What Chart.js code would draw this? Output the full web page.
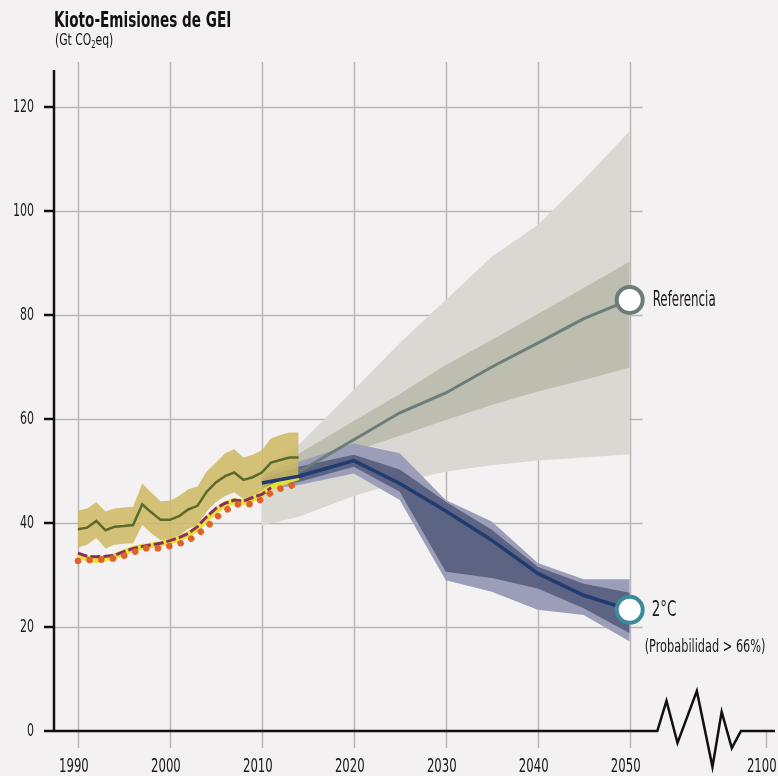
<!DOCTYPE html>
<html>
<head>
<meta charset="utf-8">
<script src="https://cdn.jsdelivr.net/npm/chart.js@4.4.0/dist/chart.umd.min.js"></script>
<style>
  html, body { margin: 0; padding: 0; background: #f3f1f2; }
  #wrap { position: relative; width: 778px; height: 776px; }
  #title { position: absolute; left: 54px; top: 10px; font: bold 21px "Liberation Sans Narrow", "DejaVu Sans Condensed", sans-serif; line-height: 1; color: #111; white-space: nowrap; transform: scaleX(0.72); transform-origin: 0 0; }
  #unit { position: absolute; left: 55px; top: 32px; font: 16px "Liberation Sans Narrow", "DejaVu Sans Condensed", sans-serif; line-height: 1; color: #111; white-space: nowrap; transform: scaleX(0.75); transform-origin: 0 0; }
  #unit sub { font-size: 10px; vertical-align: -3px; }
  canvas { position: absolute; left: 0; top: 0; }
</style>
</head>
<body>
<div id="wrap">
  <canvas id="chart" width="778" height="776"></canvas>
  <div id="title">Kioto-Emisiones de GEI</div>
  <div id="unit">(Gt CO<sub>2</sub>eq)</div>
</div>
<script>
// Historical data 1990-2014
const histYears = [1990, 1991, 1992, 1993, 1994, 1995, 1996, 1997, 1998, 1999, 2000, 2001, 2002,
                   2003, 2004, 2005, 2006, 2007, 2008, 2009, 2010, 2011, 2012, 2013, 2014];
const histCentral = [38.8, 39.1, 40.4, 38.6, 39.3, 39.4, 39.6, 43.6, 42.0, 40.6, 40.6, 41.3, 42.6,
                     43.3, 46.0, 47.8, 49.0, 49.7, 48.3, 48.8, 49.7, 51.6, 52.1, 52.6, 52.6];
const histUpper = [42.4, 42.8, 44.0, 42.2, 42.8, 43.0, 43.1, 47.6, 45.8, 44.2, 44.3, 45.2, 46.5,
                   47.0, 49.9, 51.6, 53.4, 54.2, 52.6, 53.1, 54.0, 56.3, 56.9, 57.4, 57.4];
const histLower = [35.3, 35.8, 37.1, 35.1, 35.8, 36.0, 36.1, 39.6, 38.0, 36.7, 36.9, 37.6, 38.9,
                   39.5, 42.2, 44.0, 45.2, 45.9, 44.6, 45.0, 45.9, 47.7, 48.2, 48.7, 48.7];
const histYellow = [33.8, 33.2, 32.9, 33.2, 33.6, 34.3, 35.0, 35.4, 35.7, 36.0, 36.4, 37.0, 37.8,
                    39.0, 40.8, 42.4, 43.6, 44.2, 44.0, 44.6, 45.6, 46.8, 47.6, 48.3, 48.8];
const histPurple = [34.2, 33.6, 33.5, 33.6, 33.8, 34.5, 35.1, 35.5, 35.8, 36.1, 36.6, 37.2, 38.0,
                    39.3, 41.2, 42.8, 43.8, 44.4, 44.2, 44.9, 45.5, 46.8];
const histDots = [32.7, 32.9, 32.9, 33.0, 33.2, 33.7, 34.3, 35.1, 35.2, 35.1, 35.6, 36.0, 36.6,
                  37.8, 39.2, 41.0, 42.3, 43.5, 43.7, 43.6, 44.6, 45.8, 46.6, 47.1, 47.4];

// Scenario data
const projYears = [2010, 2014, 2020, 2025, 2030, 2035, 2040, 2045, 2050];
const refOuterUpper = [50.0, 55.0, 65.6, 74.6, 82.9, 91.2, 97.3, 106.0, 115.4];
const refOuterLower = [39.5, 41.2, 45.2, 47.8, 49.9, 51.1, 52.0, 52.6, 53.2];
const refInnerUpper = [49.0, 53.3, 59.6, 64.8, 70.4, 75.2, 80.2, 85.2, 90.3];
const refInnerLower = [47.0, 50.0, 53.8, 56.8, 59.8, 62.7, 65.3, 67.5, 69.9];
const refLineYears = [2014, 2020, 2025, 2030, 2035, 2040, 2045, 2050];
const refLine = [49.8, 56.0, 61.2, 65.0, 70.0, 74.6, 79.3, 82.9];
const c2OuterUpper = [49.2, 51.8, 55.3, 53.4, 44.4, 40.3, 32.3, 29.2, 29.2];
const c2OuterLower = [46.3, 47.3, 49.5, 44.4, 29.0, 26.8, 23.3, 22.3, 17.2];
const c2InnerUpper = [48.6, 50.8, 53.1, 50.3, 44.1, 38.7, 31.6, 28.3, 26.6];
const c2InnerLower = [46.9, 47.9, 50.8, 46.0, 30.6, 29.4, 27.4, 23.6, 18.8];
const c2Line = [47.7, 49.0, 52.0, 47.6, 42.3, 36.7, 30.3, 26.1, 23.3];

// Axis ticks (2100 sits after the axis break)
const xTicks = [1990, 2000, 2010, 2020, 2030, 2040, 2050];
const xBreakTick = { label: '2100', at: 2064.8 };
const yTicks = [0, 20, 40, 60, 80, 100, 120];
const zigzagX = [2052.9, 2053.0, 2054.0, 2055.2, 2057.3, 2059.0, 2060.0, 2061.1, 2062.1, 2065.8];
const zigzagY = [0, 0, 5.8, -2.3, 7.7, -6.9, 3.7, -3.3, 0, 0];

const FONT = '"Liberation Sans Narrow", "DejaVu Sans Condensed", sans-serif';

function pts(years, vals) {
    return vals.map((v, i) => ({ x: years[i], y: v }));
}

const datasets = [];

function addBand(years, lower, upper, color, order) {
    datasets.push({ data: pts(years, lower), borderWidth: 0, pointRadius: 0, fill: false, order: order });
    datasets.push({ data: pts(years, upper), borderWidth: 0, pointRadius: 0, fill: '-1', backgroundColor: color, order: order });
}

function endCircle(n) {
    return ctx => (ctx.dataIndex === n - 1 ? 13 : 0);
}

// bands (drawn first)
addBand(projYears, refOuterLower, refOuterUpper, '#d9d8d2', 9);
addBand(projYears, refInnerLower, refInnerUpper, '#bdbdb0', 8);
addBand(projYears, c2OuterLower, c2OuterUpper, '#9c9db8', 7);
addBand(projYears, c2InnerLower, c2InnerUpper, '#5d6382', 6);
addBand(histYears, histLower, histUpper, 'rgba(205, 184, 98, 0.85)', 5);

// historical lines
datasets.push({ data: pts(histYears, histCentral), borderColor: '#5b6a2c', borderWidth: 2.5, pointRadius: 0, order: 4 });
datasets.push({ data: pts(histYears, histYellow), borderColor: '#e4e13a', borderWidth: 6, pointRadius: 0, order: 3.5 });
datasets.push({ data: pts(histYears, histPurple), borderColor: '#8a2f5e', borderWidth: 3, borderDash: [10, 3], pointRadius: 0, order: 3 });
datasets.push({ data: pts(histYears, histDots), borderColor: '#e0612a', borderWidth: 6.5, borderDash: [0.1, 11.6],
                borderCapStyle: 'round', pointRadius: 0, order: 2.5 });

// scenario lines with end circles
datasets.push({ data: pts(refLineYears, refLine), borderColor: '#6b7d76', borderWidth: 3, order: 1,
                pointRadius: endCircle(refLine.length), pointBackgroundColor: '#ffffff',
                pointBorderColor: '#6b7d76', pointBorderWidth: 4 });
datasets.push({ data: pts(projYears, c2Line), borderColor: '#1f3b70', borderWidth: 3.5, order: 0,
                pointRadius: endCircle(c2Line.length), pointBackgroundColor: '#ffffff',
                pointBorderColor: '#3d8a9e', pointBorderWidth: 4 });

function condText(ctx, text, x, y, size, align, sx) {
    ctx.save();
    ctx.font = size + 'px ' + FONT;
    ctx.translate(x, y);
    ctx.scale(sx, 1);
    ctx.textAlign = align;
    ctx.textBaseline = 'middle';
    ctx.fillStyle = '#1a1a1a';
    ctx.fillText(text, 0, 0);
    ctx.restore();
}

const decor = {
    id: 'decor',
    beforeDatasetsDraw(chart) {
        const { ctx, scales: { x, y } } = chart;
        ctx.save();
        ctx.strokeStyle = '#b6b6b6';
        ctx.lineWidth = 1.5;
        // horizontal grid
        yTicks.slice(1).forEach(v => {
            const py = Math.round(y.getPixelForValue(v)) + 0.5;
            ctx.beginPath();
            ctx.moveTo(x.getPixelForValue(1987.4), py);
            ctx.lineTo(x.getPixelForValue(2051.4), py);
            ctx.stroke();
        });
        // vertical grid
        xTicks.forEach(v => {
            const px = Math.round(x.getPixelForValue(v)) + 0.5;
            ctx.beginPath();
            ctx.moveTo(px, y.top);
            ctx.lineTo(px, y.bottom);
            ctx.stroke();
        });
        const bx = Math.round(x.getPixelForValue(xBreakTick.at)) + 0.5;
        ctx.beginPath();
        ctx.moveTo(bx, y.getPixelForValue(0));
        ctx.lineTo(bx, y.bottom);
        ctx.stroke();
        ctx.restore();
    },
    afterDatasetsDraw(chart) {
        const { ctx, scales: { x, y } } = chart;
        const x0 = x.getPixelForValue(1987.4);
        const y0 = y.getPixelForValue(0);
        ctx.save();
        ctx.strokeStyle = '#111';
        ctx.lineWidth = 2.5;
        ctx.lineJoin = 'miter';
        // y axis
        ctx.beginPath();
        ctx.moveTo(x0, y.getPixelForValue(127.1));
        ctx.lineTo(x0, y0);
        ctx.stroke();
        // y ticks
        yTicks.forEach(v => {
            const py = y.getPixelForValue(v);
            ctx.beginPath();
            ctx.moveTo(x0 - 10, py);
            ctx.lineTo(x0, py);
            ctx.stroke();
        });
        // x axis with break
        ctx.beginPath();
        ctx.moveTo(x0, y0);
        zigzagX.forEach((v, i) => ctx.lineTo(x.getPixelForValue(v), y.getPixelForValue(zigzagY[i])));
        ctx.stroke();
        ctx.restore();

        // tick labels
        yTicks.forEach(v => condText(ctx, String(v), 34, y.getPixelForValue(v), 18, 'right', 0.68));
        xTicks.forEach(v => condText(ctx, String(v), x.getPixelForValue(v) - 4, 767, 20, 'center', 0.65));
        condText(ctx, xBreakTick.label, x.getPixelForValue(xBreakTick.at) - 4, 767, 20, 'center', 0.65);

        // series labels
        const ex = x.getPixelForValue(2050);
        const refY = y.getPixelForValue(refLine[refLine.length - 1]);
        const c2Y = y.getPixelForValue(c2Line[c2Line.length - 1]);
        condText(ctx, 'Referencia', ex + 23, refY, 22, 'left', 0.6);
        condText(ctx, '2°C', ex + 22, c2Y, 22, 'left', 0.68);
        condText(ctx, '(Probabilidad > 66%)', ex + 15, c2Y + 37, 18, 'left', 0.7);
    }
};

new Chart(document.getElementById('chart'), {
    type: 'line',
    data: { datasets: datasets },
    options: {
        responsive: false,
        animation: false,
        layout: { autoPadding: false, padding: { left: 54, right: 3, top: 62, bottom: 28 } },
        elements: { line: { tension: 0 } },
        plugins: { legend: { display: false }, tooltip: { enabled: false } },
        scales: {
            x: { type: 'linear', min: 1987.4, max: 2065.8, display: false },
            y: { type: 'linear', min: -3.27, max: 128.65, display: false }
        }
    },
    plugins: [decor]
});
</script>
</body>
</html>
